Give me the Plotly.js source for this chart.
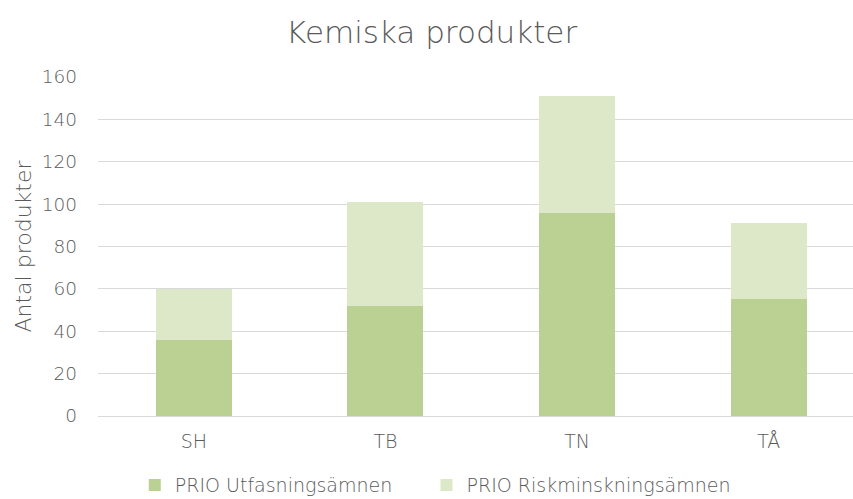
<!DOCTYPE html>
<html>
<head>
<meta charset="utf-8">
<script src="https://cdn.plot.ly/plotly-3.0.1.min.js"></script>
<style>html,body{margin:0;padding:0;background:#fff;}#chart{width:853px;height:499px;}</style>
</head>
<body>
<div id="chart"></div>
<script>
const categories = ["SH", "TB", "TN", "TÅ"];
const utfasning = [36, 52, 96, 55];
const riskminskning = [24, 49, 55, 36];
const seriesNames = ["PRIO Utfasningsämnen", "PRIO Riskminskningsämnen"];
const yTicks = [0, 20, 40, 60, 80, 100, 120, 140, 160];

const fontFam = "'DejaVu Sans', sans-serif";
const gray = "#5a5a5a";

const data = [
  {type: "bar", name: seriesNames[0], x: categories, y: utfasning, legend: "legend",
   marker: {color: "#bad193"}, hoverinfo: "y"},
  {type: "bar", name: seriesNames[1], x: categories, y: riskminskning, legend: "legend2",
   marker: {color: "#dde8c9"}, hoverinfo: "y"}
];

const legFont = {size: 19, color: gray, weight: 200};

const layout = {
  width: 853, height: 499,
  barmode: "stack",
  bargap: 0.603,
  paper_bgcolor: "#ffffff", plot_bgcolor: "#ffffff",
  margin: {l: 98, r: 0, t: 77, b: 83, autoexpand: false},
  font: {family: fontFam, color: gray},
  title: {text: "Kemiska produkter", font: {family: fontFam, size: 31, color: gray, weight: 200},
          x: 0.506, xref: "container", xanchor: "center", y: 0.935, yref: "container", yanchor: "middle"},
  xaxis: {type: "category", range: [-0.5, 3.44], showgrid: false, zeroline: false, automargin: false,
          showline: false, ticks: "", tickfont: {size: 19, color: gray, weight: 200}, ticklabelstandoff: 12},
  yaxis: {range: [0, 160], tickvals: yTicks, ticktext: yTicks.map(String), automargin: false,
          showgrid: true, gridcolor: "#d9d9d9", gridwidth: 1, zeroline: true, zerolinecolor: "#d9d9d9",
          showline: false, ticks: "", tickfont: {size: 18.5, color: gray, weight: 200}, ticklabelstandoff: 20,
          title: {text: "Antal produkter", font: {size: 22, color: gray, weight: 200}, standoff: 3}},
  showlegend: true,
  legend: {orientation: "h", xref: "container", x: 0.158, xanchor: "left", yref: "container", y: 0.066, yanchor: "top",
           font: legFont, itemwidth: 30},
  legend2: {orientation: "h", xref: "container", x: 0.5, xanchor: "left", yref: "container", y: 0.066, yanchor: "top",
           font: legFont, itemwidth: 30}
};

Plotly.newPlot("chart", data, layout, {displayModeBar: false, responsive: false});
</script>
</body>
</html>
